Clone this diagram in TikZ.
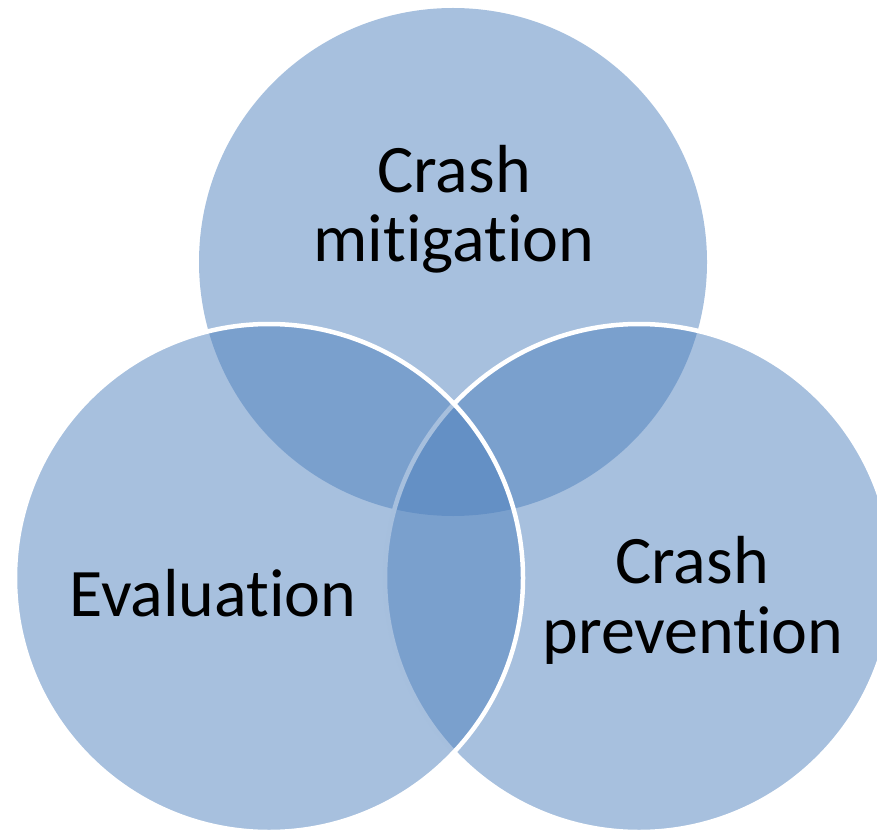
\documentclass[tikz,border=0pt]{standalone}
\usepackage{fontspec}
\setmainfont[Ligatures={NoCommon}]{Carlito}
\definecolor{venn}{HTML}{4F81BD}
\begin{document}
\begin{tikzpicture}[x=1pt,y=-1pt,
  bubble/.style={fill=venn,fill opacity=0.5},
  ring/.style={draw=white,draw opacity=1,line width=4.5pt},
  lbl/.style={anchor=base,inner sep=0pt,font=\fontsize{68}{68}\selectfont,text=black}]
\useasboundingbox (0,0) rectangle (877,834);
\clip (0,0) rectangle (877,834);
\coordinate (ctop) at (453,262);
\coordinate (cleft) at (269,578);
\coordinate (cright) at (639,578);
\fill[bubble] (ctop) circle[radius=254pt];
\filldraw[bubble,ring] (cright) circle[radius=254pt];
\filldraw[bubble,ring] (cleft) circle[radius=254pt];
\node[lbl] (t1) at (454,193) {Crash};
\node[lbl] (t2) at (454,261) {mitigation};
\node[lbl] (l1) at (213,616) {Evaluation};
\node[lbl] (r1) at (692,583) {Crash};
\node[lbl] (r2) at (693,653) {prevention};
\end{tikzpicture}
\end{document}
